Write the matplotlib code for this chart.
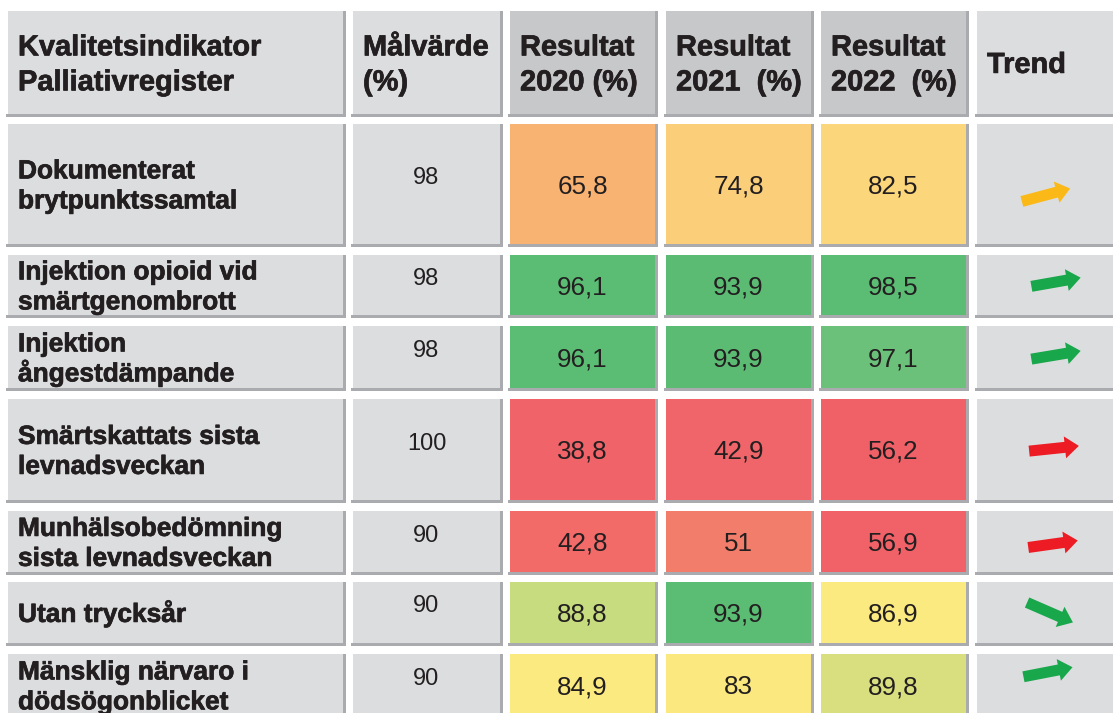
import matplotlib
matplotlib.use("Agg")
import numpy as np
import matplotlib.pyplot as plt
import matplotlib.patheffects as pe
from matplotlib.patches import Rectangle, FancyArrow

plt.rcParams['font.family'] = ['Liberation Sans', 'DejaVu Sans']

# --- data ---
headers = ["Kvalitetsindikator\nPalliativregister", "Målvärde\n(%)",
           "Resultat\n2020 (%)", "Resultat\n2021  (%)", "Resultat\n2022  (%)", "Trend"]
indicators = ["Dokumenterat\nbrytpunktssamtal",
              "Injektion opioid vid\nsmärtgenombrott",
              "Injektion\nångestdämpande",
              "Smärtskattats sista\nlevnadsveckan",
              "Munhälsobedömning\nsista levnadsveckan",
              "Utan trycksår",
              "Mänsklig närvaro i\ndödsögonblicket"]
target = [98, 98, 98, 100, 90, 90, 90]
res_2020 = [65.8, 96.1, 96.1, 38.8, 42.8, 88.8, 84.9]
res_2021 = [74.8, 93.9, 93.9, 42.9, 51, 93.9, 83]
res_2022 = [82.5, 98.5, 97.1, 56.2, 56.9, 86.9, 89.8]
trend = ["upp", "upp", "upp", "upp", "upp", "ned", "upp"]

# --- styles ---
col_2020 = ['#f8b272', '#5bbd74', '#5bbd74', '#f06368', '#f26b69', '#c6dc7f', '#fbea80']
col_2021 = ['#fbcf79', '#5bbb73', '#5cbb73', '#f06569', '#f37d6b', '#5bbc74', '#fbe97f']
col_2022 = ['#fcd67b', '#5bbc74', '#6cc17a', '#ef6167', '#f06268', '#fbea80', '#d9df7f']
arrow_col = ['#fbb917', '#18a74a', '#18a74a', '#ed1c24', '#ed1c24', '#18a74a', '#18a74a']
arrow_angle = [15, 10, 9.5, 6, 8, -23.5, 11]
arrow_shift = [(69, 11), (79, -3), (79, -2), (77, -1), (76, 2.5), (73, 0), (71, -13)]

light = '#dcdddf'
dark = '#c7c8ca'
shadow = '#a9abae'
txt = '#231f20'
thick = [pe.withStroke(linewidth=0.5, foreground=txt)]

# layout in pixels
col_left = [8, 353, 510, 666, 821, 977]
col_right = [343, 500, 655, 811, 966, 1130]
row_top = [11, 124, 255, 326, 399, 511, 582, 654]
row_bot = [114, 244, 315, 388, 500, 572, 643, 716]

fig = plt.figure(figsize=(11.13, 7.13), dpi=100)
ax = fig.add_axes([0, 0, 1, 1])
ax.set_xlim(0, 1113)
ax.set_ylim(713, 0)
ax.axis('off')


def cell(c, r, color):
    x0, x1 = col_left[c], col_right[c]
    y0, y1 = row_top[r], row_bot[r]
    ax.add_patch(Rectangle((x0, y0), x1 - x0, y1 - y0,
                           facecolor=color, edgecolor='none'))
    # grey shade on the right and bottom edge
    ax.add_patch(Rectangle((x1, y0), 2.5, y1 - y0 + 2.5,
                           facecolor=shadow, edgecolor='none'))
    ax.add_patch(Rectangle((x0 - 2, y1), x1 - x0 + 4.5, 2.5,
                           facecolor=shadow, edgecolor='none'))


def lines(x, yc, s, px, gap, ha='left', weight='bold'):
    parts = s.split('\n')
    cap = 0.716 * px
    first = yc - (cap + gap * (len(parts) - 1)) / 2 + cap
    for i, p in enumerate(parts):
        ax.text(x, first + i * gap, p, fontsize=px * 0.72, ha=ha, va='baseline',
                fontweight=weight, color=txt, path_effects=thick)


def fmt(v):
    if float(v) == int(v):
        return str(int(v))
    return ("%.1f" % v).replace('.', ',')


# header
for c, h in enumerate(headers):
    cell(c, 0, dark if 2 <= c <= 4 else light)
    yc = (row_top[0] + row_bot[0]) / 2
    lines(col_left[c] + 10, yc, h, 29, 35)

results = [res_2020, res_2021, res_2022]
colors = [col_2020, col_2021, col_2022]

for i in range(len(indicators)):
    r = i + 1
    yc = (row_top[r] + row_bot[r]) / 2
    cell(0, r, light)
    lines(col_left[0] + 10, yc, indicators[i], 26.3, 30)
    cell(1, r, light)
    xc = (col_left[1] + col_right[1]) / 2
    ax.text(xc, yc, fmt(target[i]), fontsize=17, ha='center', va='baseline', color=txt)
    for k in range(3):
        cell(2 + k, r, colors[k][i])
        xc = (col_left[2 + k] + col_right[2 + k]) / 2
        ax.text(xc, yc + 9.3, fmt(results[k][i]), fontsize=18.7, ha='center',
                va='baseline', color=txt)
    cell(5, r, light)
    a = np.radians(arrow_angle[i])
    L = 50
    dx, dy = L * np.cos(a), -L * np.sin(a)
    cx = col_left[5] + arrow_shift[i][0]
    cy = yc + arrow_shift[i][1]
    ax.add_patch(FancyArrow(cx - dx / 2, cy - dy / 2, dx, dy, width=11,
                            head_width=22, head_length=14, length_includes_head=True,
                            facecolor=arrow_col[i], edgecolor='none'))

fig.savefig('out.png', dpi=100)
